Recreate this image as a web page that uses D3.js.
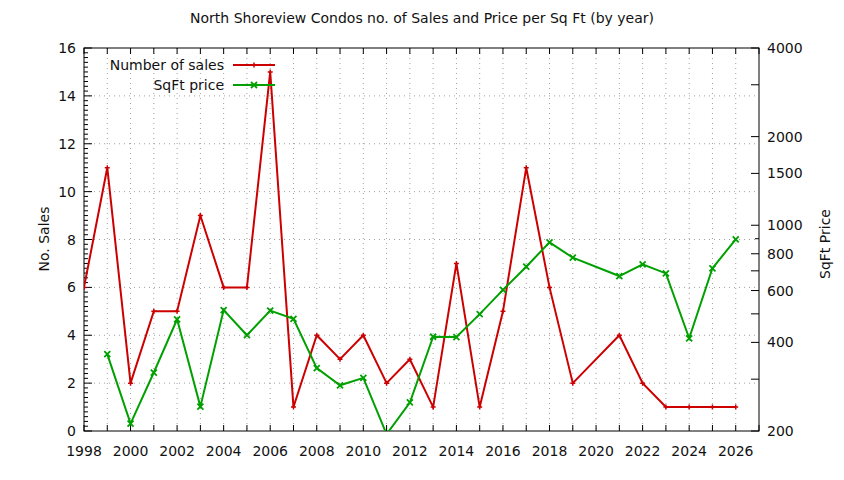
<!DOCTYPE html>
<html><head><meta charset="utf-8">
<script src="https://cdn.jsdelivr.net/npm/d3@7"></script>
<style>
html,body{margin:0;padding:0;background:#fff;}
text{font-family:"DejaVu Sans",sans-serif;fill:#111;}
</style></head>
<body>
<svg id="c" width="844" height="480"></svg>
<script>
const years = [1998,1999,2000,2001,2002,2003,2004,2005,2006,2007,2008,2009,2010,2011,2012,2013,2014,2015,2016,2017,2018,2019,2020,2021,2022,2023,2024,2025,2026];
const sales = [6,11,2,5,5,9,6,6,15,1,4,3,4,2,3,1,7,1,5,11,6,2,null,4,2,1,1,1,1];
const sqftPrice = [null,365,212,316,479,242,515,423,513,481,327,286,303,195,250,418,417,499,603,723,875,776,null,672,736,686,413,714,896];
const xTickLabels = [1998,2000,2002,2004,2006,2008,2010,2012,2014,2016,2018,2020,2022,2024,2026];
const leftTicks = [0,2,4,6,8,10,12,14,16];
const rightTicks = [200,400,600,800,1000,1500,2000,4000];
const rightMinorLong = [300,500,700,3000];
const rightMinorShort = [900];
const titleText = "North Shoreview Condos no. of Sales and Price per Sq Ft (by year)";

const svg = d3.select("#c");
const L=84, R=759, T=48, B=431;
const x = d3.scaleLinear().domain([1998,2027]).range([L,R]);
const y = d3.scaleLinear().domain([0,16]).range([B,T]);
const y2 = d3.scaleLog().domain([200,4000]).range([B,T]);
const red="#cc0000", green="#00a000";

// grid
const grid = svg.append("g").attr("stroke","#a0a0a0").attr("stroke-width",1).attr("stroke-dasharray","1,4");
d3.range(1999,2027).forEach(v=>grid.append("line").attr("x1",x(v)).attr("x2",x(v)).attr("y1",T).attr("y2",B));
leftTicks.slice(1,-1).forEach(v=>grid.append("line").attr("x1",L).attr("x2",R).attr("y1",y(v)).attr("y2",y(v)));

// ticks
const tk = svg.append("g").attr("stroke","#000").attr("stroke-width",1);
d3.range(1998,2028).forEach(v=>{
  tk.append("line").attr("x1",x(v)).attr("x2",x(v)).attr("y1",B).attr("y2",B-6);
  tk.append("line").attr("x1",x(v)).attr("x2",x(v)).attr("y1",T).attr("y2",T+6);
});
d3.range(0,16.01,0.2).forEach(v=>{
  const major = Math.abs(v/2-Math.round(v/2))<1e-6;
  tk.append("line").attr("x1",L).attr("x2",L+(major?8:4)).attr("y1",y(v)).attr("y2",y(v));
});
rightTicks.concat(rightMinorLong).forEach(v=>tk.append("line").attr("x1",R).attr("x2",R-8).attr("y1",y2(v)).attr("y2",y2(v)));
rightMinorShort.forEach(v=>tk.append("line").attr("x1",R).attr("x2",R-4).attr("y1",y2(v)).attr("y2",y2(v)));

// border
svg.append("rect").attr("x",L).attr("y",T).attr("width",R-L).attr("height",B-T).attr("fill","none").attr("stroke","#000").attr("stroke-width",1);

// labels
const fs=14;
svg.append("g").selectAll("text").data(xTickLabels).join("text")
  .attr("x",d=>x(d)).attr("y",456).attr("text-anchor","middle").attr("font-size",fs).text(d=>d);
svg.append("g").selectAll("text").data(leftTicks).join("text")
  .attr("x",76).attr("y",d=>y(d)+5).attr("text-anchor","end").attr("font-size",fs).text(d=>d);
svg.append("g").selectAll("text").data(rightTicks).join("text")
  .attr("x",767).attr("y",d=>y2(d)+5).attr("text-anchor","start").attr("font-size",fs).text(d=>d);
svg.append("text").attr("x",422).attr("y",23).attr("text-anchor","middle").attr("font-size",14).text(titleText);
svg.append("text").attr("transform","translate(49,239) rotate(-90)").attr("text-anchor","middle").attr("font-size",fs).text("No. Sales");
svg.append("text").attr("transform","translate(830,244) rotate(-90)").attr("text-anchor","middle").attr("font-size",fs).text("SqFt Price");

// clip
svg.append("clipPath").attr("id","pc").append("rect").attr("x",L).attr("y",T).attr("width",R-L).attr("height",B-T);
const plot = svg.append("g").attr("clip-path","url(#pc)");

function drawSeries(vals, ys, color, marker){
  const pts = years.map((yr,i)=>({yr,v:vals[i]})).filter(d=>d.v!=null);
  const line = d3.line().x(d=>x(d.yr)).y(d=>ys(d.v));
  plot.append("path").datum(pts).attr("d",line).attr("fill","none").attr("stroke",color).attr("stroke-width",2);
  pts.forEach(d=>marker(plot,x(d.yr),ys(d.v),color));
}
function plus(g,cx,cy,c){
  g.append("path").attr("d",`M${cx-2.5},${cy}H${cx+2.5}M${cx},${cy-2.5}V${cy+2.5}`).attr("stroke",c).attr("stroke-width",1.5);
}
function cross(g,cx,cy,c){
  g.append("path").attr("d",`M${cx-3},${cy-3}L${cx+3},${cy+3}M${cx-3},${cy+3}L${cx+3},${cy-3}`).attr("stroke",c).attr("stroke-width",1.8);
}
drawSeries(sales, y, red, plus);
drawSeries(sqftPrice, y2, green, cross);

// legend
const lg = svg.append("g");
[["Number of sales",red,plus,65],["SqFt price",green,cross,85]].forEach(([t,c,m,ly])=>{
  lg.append("text").attr("x",224).attr("y",ly+5).attr("text-anchor","end").attr("font-size",fs).text(t);
  lg.append("line").attr("x1",233).attr("x2",275).attr("y1",ly).attr("y2",ly).attr("stroke",c).attr("stroke-width",2);
  m(lg,254,ly,c);
});
</script>
</body></html>
